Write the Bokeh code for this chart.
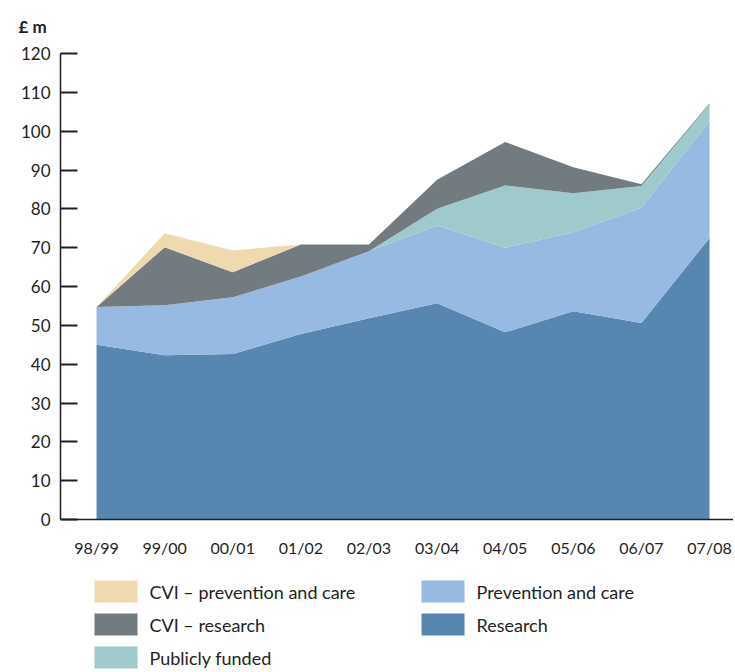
from bokeh.plotting import figure
from bokeh.models import ColumnDataSource, FixedTicker, Range1d
from bokeh.layouts import column
from bokeh.core.properties import value
from bokeh.embed import file_html
from bokeh.resources import INLINE

years = ["98/99", "99/00", "00/01", "01/02", "02/03", "03/04", "04/05", "05/06", "06/07", "07/08"]
research = [45.0, 42.3, 42.6, 47.8, 51.8, 55.7, 48.2, 53.6, 50.6, 72.5]
prevention = [9.7, 12.9, 14.6, 14.8, 17.3, 20.0, 21.8, 20.4, 29.7, 30.1]
publicly_funded = [0.0, 0.0, 0.0, 0.0, 0.0, 4.3, 16.0, 10.0, 5.6, 4.4]
cvi_research = [0.0, 14.9, 6.5, 8.2, 1.7, 7.5, 11.2, 6.7, 0.4, 0.2]
cvi_prevention = [0.0, 3.6, 5.6, 0.0, 0.0, 0.0, 0.0, 0.0, 0.0, 0.0]
y_ticks = list(range(0, 130, 10))

names = ["research", "prevention", "public", "cvi_research", "cvi_prevention"]
labels = ["Research", "Prevention and care", "Publicly funded", "CVI \u2013 research", "CVI \u2013 prevention and care"]
colors = ["#5787B0", "#96BAE1", "#9ECACC", "#727C80", "#EFD9AE"]
legend_order = ["cvi_prevention", "cvi_research", "public", "prevention", "research"]

xs = list(range(len(years)))
source = ColumnDataSource(dict(x=xs, research=research, prevention=prevention,
                               public=publicly_funded, cvi_research=cvi_research,
                               cvi_prevention=cvi_prevention))

FONT = "Lato"
TXT = "#231F20"
W = 733
LEFT = 60

p = figure(width=W, height=565, output_backend="svg", toolbar_location=None,
           x_range=Range1d(-0.529, 9.352), y_range=Range1d(0, 120),
           min_border_left=LEFT, min_border_right=0, min_border_top=53, min_border_bottom=46,
           title="\u00a3 m")
p.title.text_font = FONT
p.title.text_font_size = "17px"
p.title.text_font_style = "bold"
p.title.text_color = TXT
p.title.align = "left"
p.title.offset = -42
p.title.vertical_align = "top"
p.title.standoff = 30

p.varea_stack(stackers=names, x="x", color=colors, source=source)

p.outline_line_color = None
p.xgrid.grid_line_color = None
p.ygrid.grid_line_color = None
p.background_fill_color = "white"

xa = p.xaxis[0]
xa.ticker = FixedTicker(ticks=xs)
xa.major_label_overrides = {i: y for i, y in enumerate(years)}
xa.major_tick_line_color = None
xa.minor_tick_line_color = None
xa.axis_line_color = TXT
xa.axis_line_width = 1.5
xa.major_label_text_font = FONT
xa.major_label_text_font_size = "16px"
xa.major_label_text_color = TXT
xa.major_label_standoff = 12

ya = p.yaxis[0]
ya.ticker = FixedTicker(ticks=y_ticks)
ya.major_tick_in = 17
ya.major_tick_out = 0
ya.major_tick_line_width = 2
ya.major_tick_line_color = TXT
ya.minor_tick_line_color = None
ya.axis_line_color = TXT
ya.axis_line_width = 1.5
ya.major_label_text_font = FONT
ya.major_label_text_font_size = "17px"
ya.major_label_text_color = TXT
ya.major_label_standoff = 10

# legend panel (two columns); frame is aligned with the chart's frame
LH = 107
lmap = dict(zip(names, labels))
cmap = dict(zip(names, colors))
col_idx = [0, 0, 0, 1, 1]
row_idx = [0, 1, 2, 0, 1]
sw_x = [94 + 327 * c for c in col_idx]
sw_y = [26 + 33 * r for r in row_idx]
leg_src = ColumnDataSource(dict(
    sx=[x + 21.5 for x in sw_x], sy=sw_y,
    tx=[x + 55 for x in sw_x],
    color=[cmap[k] for k in legend_order],
    label=[lmap[k] for k in legend_order]))

lg = figure(width=W, height=LH, output_backend="svg", toolbar_location=None,
            x_range=Range1d(LEFT, W), y_range=Range1d(LH, 0),
            x_axis_location=None, y_axis_location=None,
            min_border=0, min_border_left=LEFT, min_border_right=0,
            min_border_top=0, min_border_bottom=0)
lg.grid.visible = False
lg.outline_line_color = None
lg.rect(x="sx", y="sy", width=43, height=22, fill_color="color", line_color=None, source=leg_src)
lg.text(x="tx", y="sy", text="label", source=leg_src, text_font=value(FONT),
        text_font_size="18px", text_color=TXT, text_baseline="middle", text_align="left")

layout = column(p, lg, spacing=0)
open("out.html", "w").write(file_html(layout, INLINE))
